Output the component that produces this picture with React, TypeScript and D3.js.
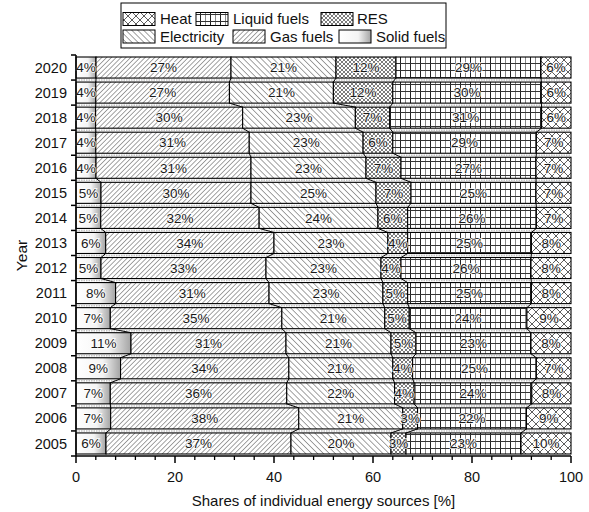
import React from "react";
import * as d3 from "d3";

// Shares of individual energy sources by year (percent, rounded)
const years = [2005, 2006, 2007, 2008, 2009, 2010, 2011, 2012, 2013, 2014, 2015, 2016, 2017, 2018, 2019, 2020];
const solidFuels = [6, 7, 7, 9, 11, 7, 8, 5, 6, 5, 5, 4, 4, 4, 4, 4];
const gasFuels = [37, 38, 36, 34, 31, 35, 31, 33, 34, 32, 30, 31, 31, 30, 27, 27];
const electricity = [20, 21, 22, 21, 21, 21, 23, 23, 23, 24, 25, 23, 23, 23, 21, 21];
const res = [3, 3, 4, 4, 5, 5, 5, 4, 4, 6, 7, 7, 6, 7, 12, 12];
const liquidFuels = [23, 22, 24, 25, 23, 24, 25, 26, 25, 26, 25, 27, 29, 31, 30, 29];
const heat = [10, 9, 8, 7, 8, 9, 8, 8, 8, 7, 7, 7, 7, 6, 6, 6];

const seriesKeys = ["Solid fuels", "Gas fuels", "Electricity", "RES", "Liquid fuels", "Heat"];
const seriesValues = [solidFuels, gasFuels, electricity, res, liquidFuels, heat];
const xTicks = [0, 20, 40, 60, 80, 100];

const fills: Record<string, string> = {
  "Solid fuels": "url(#solidGrad)",
  "Gas fuels": "url(#gas)",
  "Electricity": "url(#elec)",
  "RES": "url(#res)",
  "Liquid fuels": "url(#liquid)",
  "Heat": "url(#heat)",
};

// legend rows, each entry: [series, swatch x, text x]
const legendRows: [string, number, number][][] = [
  [["Heat", 123, 160], ["Liquid fuels", 196, 233], ["RES", 321, 357]],
  [["Electricity", 123, 160], ["Gas fuels", 233, 270], ["Solid fuels", 339, 376]],
];

const FONT = "'Liberation Sans', Arial, sans-serif";

export default function App() {
  const W = 589, H = 512;
  const left = 76, right = 571, top = 55, bottom = 456;

  const rows = years.map((y, i) => {
    const r: Record<string, number> = { year: y };
    seriesKeys.forEach((k, j) => (r[k] = seriesValues[j][i]));
    return r;
  });

  const stacked = d3.stack<Record<string, number>>().keys(seriesKeys).offset(d3.stackOffsetExpand)(rows);

  const x = d3.scaleLinear().domain([0, 100]).range([left, right]);
  const y = d3
    .scaleBand<number>()
    .domain([...years].reverse())
    .range([top, bottom])
    .paddingInner(0.16)
    .paddingOuter(0.08);
  const step = y.step();
  const bw = y.bandwidth();

  const boundaries = d3.range(years.length + 1).map((i) => top + i * step);
  const minorTicks = d3.range(0, 101, 4).filter((v) => v % 20 !== 0);

  // cumulative boundaries per year index
  const cum = (i: number, k: number) => stacked[k][i][1] * 100;

  const connectors: { x1: number; y1: number; x2: number; y2: number }[] = [];
  for (let i = years.length - 1; i > 0; i--) {
    const upper = i; // higher year sits above
    const lower = i - 1;
    const yu = (y(years[upper]) as number) + bw;
    const yl = y(years[lower]) as number;
    for (let k = 0; k < seriesKeys.length - 1; k++) {
      connectors.push({ x1: x(cum(upper, k)), y1: yu, x2: x(cum(lower, k)), y2: yl });
    }
  }

  const gaps = years.slice(1).map((yr) => (y(yr) as number) + bw + (step - bw) / 2);

  return (
    <svg width={W} height={H} style={{ position: "absolute", left: 0, top: 0, background: "#fff" }} fontFamily={FONT}>
      <defs>
        <pattern id="heat" patternUnits="userSpaceOnUse" width={8} height={8}>
          <rect width={8} height={8} fill="#fff" />
          <path d="M0,0L8,8M8,0L0,8" stroke="#333" strokeWidth={0.8} />
        </pattern>
        <pattern id="res" patternUnits="userSpaceOnUse" width={4} height={4}>
          <rect width={4} height={4} fill="#fff" />
          <path d="M0,0L4,4M4,0L0,4" stroke="#444" strokeWidth={0.7} />
        </pattern>
        <pattern id="gas" patternUnits="userSpaceOnUse" width={3.4} height={3.4} patternTransform="rotate(45)">
          <rect width={3.4} height={3.4} fill="#fff" />
          <line x1={0} y1={0} x2={0} y2={3.4} stroke="#333" strokeWidth={0.9} />
        </pattern>
        <pattern id="elec" patternUnits="userSpaceOnUse" width={4.2} height={4.2} patternTransform="rotate(-45)">
          <rect width={4.2} height={4.2} fill="#fff" />
          <line x1={0} y1={0} x2={0} y2={4.2} stroke="#333" strokeWidth={0.9} />
        </pattern>
        <pattern id="liquid" patternUnits="userSpaceOnUse" width={10} height={7}>
          <rect width={10} height={7} fill="#fff" />
          <line x1={0.5} y1={0} x2={0.5} y2={7} stroke="#222" strokeWidth={1} />
          <line x1={5.5} y1={0} x2={5.5} y2={7} stroke="#888" strokeWidth={1} />
          <line x1={0} y1={0.5} x2={10} y2={0.5} stroke="#333" strokeWidth={1} />
        </pattern>
        <linearGradient id="solidGrad" x1="0" y1="0" x2="1" y2="0">
          <stop offset="0" stopColor="#fff" />
          <stop offset="0.6" stopColor="#f4f4f4" />
          <stop offset="1" stopColor="#a4a4a4" />
        </linearGradient>
      </defs>

      {/* separators between bars */}
      {gaps.map((gy, i) => (
        <line key={"g" + i} x1={left} x2={right} y1={gy} y2={gy} stroke="#c4c4c4" strokeWidth={1.5} strokeDasharray="1.5,1" />
      ))}

      {/* stacked segments */}
      {stacked.map((s, k) => (
        <g key={seriesKeys[k]}>
          {s.map((d, i) => (
            <rect
              key={i}
              x={x(d[0] * 100)}
              y={y(years[i]) as number}
              width={x(d[1] * 100) - x(d[0] * 100)}
              height={bw}
              fill={fills[seriesKeys[k]]}
              stroke="#000"
              strokeWidth={1.1}
            />
          ))}
        </g>
      ))}

      {/* connecting lines between neighbouring bars */}
      {connectors.map((c, i) => (
        <line key={"c" + i} {...c} stroke="#000" strokeWidth={1} />
      ))}

      {/* value labels */}
      {stacked.map((s, k) =>
        s.map((d, i) => (
          <text
            key={k + "-" + i}
            x={(x(d[0] * 100) + x(d[1] * 100)) / 2}
            y={(y(years[i]) as number) + bw / 2}
            dy="0.35em"
            textAnchor="middle"
            fontSize={13.5}
            fill="#1a1a1a"
            stroke="#fff"
            strokeWidth={2}
            strokeOpacity={0.75}
            paintOrder="stroke"
          >
            {seriesValues[k][i]}%
          </text>
        ))
      )}

      {/* y axis */}
      <line x1={left} x2={left} y1={top} y2={bottom} stroke="#000" strokeWidth={1.5} />
      {boundaries.map((b, i) => (
        <line key={"yt" + i} x1={left - 5} x2={left} y1={b} y2={b} stroke="#000" strokeWidth={1.5} />
      ))}
      {years.map((yr) => (
        <text key={"yl" + yr} x={67} y={(y(yr) as number) + bw / 2} dy="0.35em" textAnchor="end" fontSize={14.5} fill="#111">
          {yr}
        </text>
      ))}
      <text transform={`translate(27,${(top + bottom) / 2}) rotate(-90)`} textAnchor="middle" fontSize={15.5} fill="#111">
        Year
      </text>

      {/* x axis */}
      <line x1={left} x2={right} y1={bottom} y2={bottom} stroke="#000" strokeWidth={1.5} />
      {xTicks.map((t) => (
        <g key={"xt" + t}>
          <line x1={x(t)} x2={x(t)} y1={bottom} y2={bottom + 7} stroke="#000" strokeWidth={1.5} />
          <text x={x(t)} y={482} textAnchor="middle" fontSize={14.5} fill="#111">
            {t}
          </text>
        </g>
      ))}
      {minorTicks.map((t) => (
        <line key={"mt" + t} x1={x(t)} x2={x(t)} y1={bottom} y2={bottom + 4} stroke="#000" strokeWidth={1.3} />
      ))}
      <text x={(left + right) / 2} y={506} textAnchor="middle" fontSize={15} fill="#111">
        Shares of individual energy sources [%]
      </text>

      {/* legend */}
      <rect x={121} y={3} width={325} height={45} fill="#fff" stroke="#000" strokeWidth={1} />
      {legendRows.map((row, ri) =>
        row.map(([name, sx, tx]) => {
          const cy = 19 + ri * 17.5;
          return (
            <g key={name}>
              <rect x={sx} y={cy - 6.5} width={32} height={13} fill={fills[name]} stroke="#000" strokeWidth={1} />
              <text x={tx} y={cy} dy="0.35em" fontSize={15} fill="#111">
                {name}
              </text>
            </g>
          );
        })
      )}
    </svg>
  );
}
